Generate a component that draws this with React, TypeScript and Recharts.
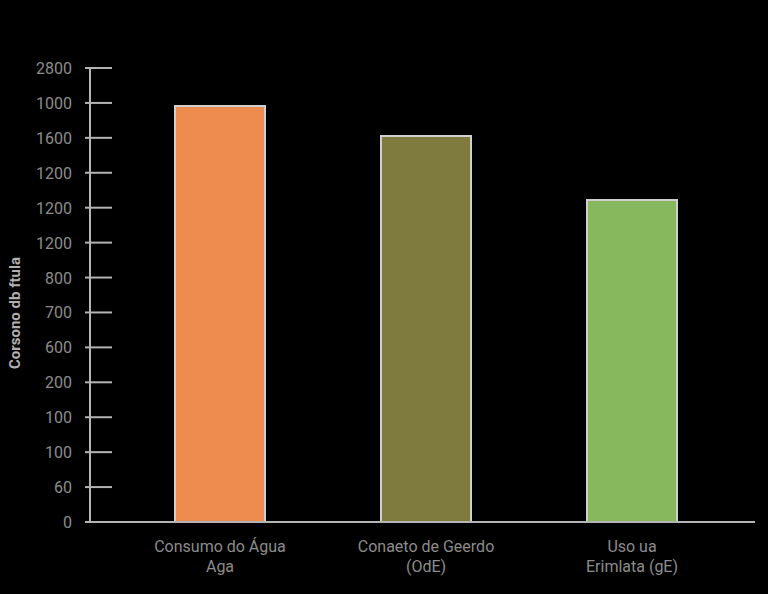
import React from 'react';
import { BarChart, Bar, Cell, XAxis, YAxis } from 'recharts';

const categories = [
  ['Consumo do Água', 'Aga'],
  ['Conaeto de Geerdo', '(OdE)'],
  ['Uso ua', 'Erimlata (gE)'],
];
const values = [2382, 2211, 1844];
const colors = ['#EE8B4E', '#7F7B3F', '#88B85D'];

// tick positions and the labels printed at them
const tickValues = [0, 200, 400, 600, 800, 1000, 1200, 1400, 1600, 1800, 2000, 2200, 2400, 2600];
const tickLabels = ['0', '60', '100', '100', '200', '600', '700', '800', '1200', '1200', '1200', '1600', '1000', '2800'];

const yTitle = 'Corsono db ftula';

const data = categories.map((c, i) => ({ name: c.join('\n'), value: values[i] }));

const TICK_MARGIN = 18;

const YTick = ({ x, y, payload }: any) => {
  const axisX = x + TICK_MARGIN;
  const idx = tickValues.indexOf(payload.value);
  return (
    <g>
      <line x1={axisX - 5} x2={axisX + 22} y1={y} y2={y} stroke="#b4b4b4" strokeWidth={2} />
      <text x={x} y={y} dy={6} textAnchor="end" fill="#8c8c8c" fontSize={16}>
        {tickLabels[idx]}
      </text>
    </g>
  );
};

const XTick = ({ x, y, payload }: any) => {
  const lines = String(payload.value).split('\n');
  return (
    <text x={x} y={y} textAnchor="middle" fill="#8c8c8c" fontSize={16}>
      {lines.map((l, i) => (
        <tspan key={i} x={x} dy={i === 0 ? 22 : 20}>
          {l}
        </tspan>
      ))}
    </text>
  );
};

const YTitle = ({ viewBox }: any) => {
  const cx = 15;
  const cy = viewBox.y + viewBox.height / 2 + 18;
  return (
    <text
      x={cx}
      y={cy}
      transform={`rotate(-90, ${cx}, ${cy})`}
      textAnchor="middle"
      dominantBaseline="central"
      fill="#b0b0b0"
      fontSize={15}
      fontWeight="bold"
    >
      {yTitle}
    </text>
  );
};

export default function App() {
  return (
    <div
      style={{
        position: 'fixed',
        left: 0,
        top: 0,
        width: 768,
        height: 594,
        background: '#000',
        fontFamily: 'Roboto, sans-serif',
      }}
    >
      <BarChart width={768} height={594} data={data} margin={{ top: 68, right: 13, bottom: 12, left: 0 }}>
        <XAxis
          dataKey="name"
          tick={<XTick />}
          tickLine={false}
          axisLine={{ stroke: '#b4b4b4', strokeWidth: 2 }}
          padding={{ left: 27, right: 20 }}
          height={60}
          interval={0}
        />
        <YAxis
          domain={[0, 2600]}
          ticks={tickValues}
          interval={0}
          tick={<YTick />}
          tickLine={false}
          tickSize={0}
          tickMargin={TICK_MARGIN}
          axisLine={{ stroke: '#b4b4b4', strokeWidth: 2 }}
          width={90}
          label={<YTitle />}
        />
        <Bar dataKey="value" barSize={90} stroke="#cfcfcf" strokeWidth={2} isAnimationActive={false}>
          {data.map((d, i) => (
            <Cell key={d.name} fill={colors[i]} />
          ))}
        </Bar>
      </BarChart>
    </div>
  );
}
